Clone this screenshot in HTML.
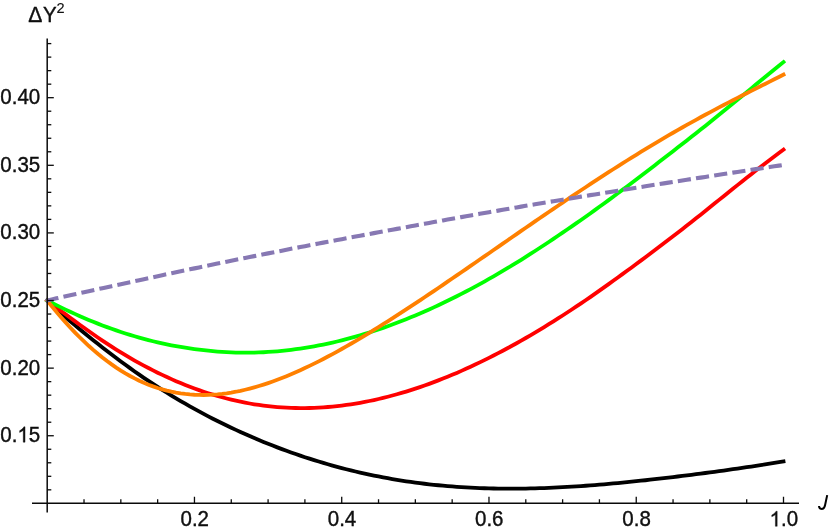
<!DOCTYPE html>
<html><head><meta charset="utf-8"><title>Plot</title>
<style>
html,body{margin:0;padding:0;background:#ffffff;}
body{width:830px;height:527px;overflow:hidden;font-family:"Liberation Sans",sans-serif;}
svg{display:block;will-change:transform;}
text{font-family:"Liberation Sans",sans-serif;font-size:20.5px;fill:#111111;}
</style></head>
<body>
<svg width="830" height="527" viewBox="0 0 830 527">
<rect x="0" y="0" width="830" height="527" fill="#ffffff"/>
<path d="M47.20 300.52 L51.80 304.66 L56.40 308.93 L61.01 313.12 L65.61 317.21 L70.21 321.22 L74.81 325.16 L79.41 329.02 L84.02 332.82 L88.62 336.55 L93.22 340.22 L97.82 343.85 L102.42 347.44 L107.02 350.99 L111.63 354.51 L116.23 357.98 L120.83 361.41 L125.43 364.80 L130.03 368.14 L134.64 371.43 L139.24 374.65 L143.84 377.81 L148.44 380.91 L153.04 383.95 L157.65 386.93 L162.25 389.85 L166.85 392.73 L171.45 395.55 L176.05 398.33 L180.65 401.06 L185.26 403.73 L189.86 406.35 L194.46 408.92 L199.06 411.44 L203.66 413.91 L208.27 416.34 L212.87 418.71 L217.47 421.03 L222.07 423.31 L226.67 425.55 L231.27 427.75 L235.88 429.90 L240.48 432.00 L245.08 434.07 L249.68 436.09 L254.28 438.08 L258.89 440.02 L263.49 441.92 L268.09 443.77 L272.69 445.59 L277.29 447.37 L281.90 449.10 L286.50 450.80 L291.10 452.45 L295.70 454.07 L300.30 455.64 L304.90 457.18 L309.51 458.67 L314.11 460.13 L318.71 461.55 L323.31 462.92 L327.91 464.26 L332.52 465.56 L337.12 466.82 L341.72 468.05 L346.32 469.23 L350.92 470.38 L355.53 471.49 L360.13 472.56 L364.73 473.59 L369.33 474.59 L373.93 475.55 L378.53 476.47 L383.14 477.36 L387.74 478.21 L392.34 479.02 L396.94 479.80 L401.54 480.55 L406.15 481.26 L410.75 481.93 L415.35 482.57 L419.95 483.17 L424.55 483.74 L429.16 484.28 L433.76 484.79 L438.36 485.26 L442.96 485.70 L447.56 486.10 L452.17 486.48 L456.77 486.82 L461.37 487.14 L465.97 487.42 L470.57 487.67 L475.17 487.90 L479.78 488.09 L484.38 488.26 L488.98 488.40 L493.58 488.51 L498.18 488.59 L502.79 488.65 L507.39 488.68 L511.99 488.69 L516.59 488.67 L521.19 488.62 L525.79 488.56 L530.40 488.47 L535.00 488.35 L539.60 488.22 L544.20 488.06 L548.80 487.88 L553.41 487.68 L558.01 487.46 L562.61 487.22 L567.21 486.97 L571.81 486.69 L576.42 486.40 L581.02 486.09 L585.62 485.76 L590.22 485.42 L594.82 485.06 L599.42 484.68 L604.03 484.30 L608.63 483.89 L613.23 483.48 L617.83 483.05 L622.43 482.61 L627.04 482.16 L631.64 481.69 L636.24 481.22 L640.84 480.73 L645.44 480.24 L650.05 479.73 L654.65 479.21 L659.25 478.69 L663.85 478.16 L668.45 477.61 L673.06 477.06 L677.66 476.51 L682.26 475.94 L686.86 475.37 L691.46 474.79 L696.06 474.20 L700.67 473.60 L705.27 473.00 L709.87 472.39 L714.47 471.77 L719.07 471.15 L723.68 470.51 L728.28 469.87 L732.88 469.23 L737.48 468.57 L742.08 467.91 L746.69 467.23 L751.29 466.55 L755.89 465.86 L760.49 465.15 L765.09 464.44 L769.69 463.71 L774.30 462.97 L778.90 462.22 L783.50 461.45" fill="none" stroke="#000000" stroke-width="3.8" stroke-linecap="square" stroke-linejoin="round"/>
<path d="M47.20 300.52 L51.80 303.95 L56.40 307.44 L61.01 310.90 L65.61 314.35 L70.21 317.76 L74.81 321.15 L79.41 324.49 L84.02 327.80 L88.62 331.06 L93.22 334.28 L97.82 337.45 L102.42 340.57 L107.02 343.63 L111.63 346.63 L116.23 349.55 L120.83 352.41 L125.43 355.20 L130.03 357.92 L134.64 360.56 L139.24 363.12 L143.84 365.61 L148.44 368.04 L153.04 370.40 L157.65 372.68 L162.25 374.90 L166.85 377.05 L171.45 379.13 L176.05 381.14 L180.65 383.08 L185.26 384.94 L189.86 386.73 L194.46 388.45 L199.06 390.10 L203.66 391.68 L208.27 393.19 L212.87 394.62 L217.47 395.99 L222.07 397.28 L226.67 398.50 L231.27 399.65 L235.88 400.72 L240.48 401.72 L245.08 402.65 L249.68 403.50 L254.28 404.28 L258.89 404.98 L263.49 405.61 L268.09 406.17 L272.69 406.65 L277.29 407.07 L281.90 407.41 L286.50 407.68 L291.10 407.88 L295.70 408.01 L300.30 408.07 L304.90 408.06 L309.51 407.98 L314.11 407.83 L318.71 407.62 L323.31 407.34 L327.91 406.99 L332.52 406.58 L337.12 406.10 L341.72 405.56 L346.32 404.96 L350.92 404.29 L355.53 403.56 L360.13 402.76 L364.73 401.91 L369.33 400.99 L373.93 400.02 L378.53 398.98 L383.14 397.89 L387.74 396.74 L392.34 395.53 L396.94 394.26 L401.54 392.94 L406.15 391.56 L410.75 390.13 L415.35 388.64 L419.95 387.10 L424.55 385.50 L429.16 383.85 L433.76 382.15 L438.36 380.40 L442.96 378.60 L447.56 376.74 L452.17 374.84 L456.77 372.89 L461.37 370.88 L465.97 368.83 L470.57 366.73 L475.17 364.59 L479.78 362.40 L484.38 360.16 L488.98 357.87 L493.58 355.54 L498.18 353.17 L502.79 350.75 L507.39 348.28 L511.99 345.78 L516.59 343.23 L521.19 340.63 L525.79 338.00 L530.40 335.33 L535.00 332.61 L539.60 329.86 L544.20 327.06 L548.80 324.23 L553.41 321.35 L558.01 318.44 L562.61 315.50 L567.21 312.51 L571.81 309.49 L576.42 306.43 L581.02 303.34 L585.62 300.22 L590.22 297.06 L594.82 293.87 L599.42 290.64 L604.03 287.39 L608.63 284.11 L613.23 280.82 L617.83 277.50 L622.43 274.16 L627.04 270.81 L631.64 267.44 L636.24 264.05 L640.84 260.64 L645.44 257.22 L650.05 253.78 L654.65 250.32 L659.25 246.84 L663.85 243.34 L668.45 239.82 L673.06 236.29 L677.66 232.75 L682.26 229.18 L686.86 225.58 L691.46 221.96 L696.06 218.32 L700.67 214.66 L705.27 210.99 L709.87 207.29 L714.47 203.59 L719.07 199.88 L723.68 196.17 L728.28 192.48 L732.88 188.79 L737.48 185.11 L742.08 181.45 L746.69 177.80 L751.29 174.17 L755.89 170.57 L760.49 166.99 L765.09 163.44 L769.69 159.93 L774.30 156.47 L778.90 153.06 L783.50 149.70" fill="none" stroke="#ff0000" stroke-width="3.8" stroke-linecap="square" stroke-linejoin="round"/>
<path d="M47.20 300.52 L51.80 302.78 L56.40 305.10 L61.01 307.38 L65.61 309.60 L70.21 311.77 L74.81 313.88 L79.41 315.94 L84.02 317.94 L88.62 319.89 L93.22 321.79 L97.82 323.62 L102.42 325.41 L107.02 327.13 L111.63 328.80 L116.23 330.41 L120.83 331.97 L125.43 333.47 L130.03 334.91 L134.64 336.29 L139.24 337.62 L143.84 338.88 L148.44 340.09 L153.04 341.25 L157.65 342.34 L162.25 343.38 L166.85 344.36 L171.45 345.28 L176.05 346.14 L180.65 346.95 L185.26 347.70 L189.86 348.41 L194.46 349.06 L199.06 349.66 L203.66 350.21 L208.27 350.71 L212.87 351.15 L217.47 351.54 L222.07 351.87 L226.67 352.15 L231.27 352.37 L235.88 352.53 L240.48 352.63 L245.08 352.67 L249.68 352.65 L254.28 352.57 L258.89 352.43 L263.49 352.23 L268.09 351.97 L272.69 351.65 L277.29 351.28 L281.90 350.85 L286.50 350.37 L291.10 349.83 L295.70 349.24 L300.30 348.60 L304.90 347.90 L309.51 347.15 L314.11 346.34 L318.71 345.48 L323.31 344.56 L327.91 343.59 L332.52 342.57 L337.12 341.49 L341.72 340.35 L346.32 339.17 L350.92 337.93 L355.53 336.63 L360.13 335.29 L364.73 333.90 L369.33 332.46 L373.93 330.97 L378.53 329.44 L383.14 327.85 L387.74 326.22 L392.34 324.54 L396.94 322.81 L401.54 321.04 L406.15 319.22 L410.75 317.36 L415.35 315.45 L419.95 313.49 L424.55 311.49 L429.16 309.45 L433.76 307.36 L438.36 305.22 L442.96 303.04 L447.56 300.82 L452.17 298.55 L456.77 296.25 L461.37 293.90 L465.97 291.50 L470.57 289.07 L475.17 286.60 L479.78 284.09 L484.38 281.54 L488.98 278.95 L493.58 276.33 L498.18 273.66 L502.79 270.96 L507.39 268.22 L511.99 265.44 L516.59 262.62 L521.19 259.77 L525.79 256.89 L530.40 253.96 L535.00 251.01 L539.60 248.02 L544.20 245.01 L548.80 241.96 L553.41 238.89 L558.01 235.79 L562.61 232.67 L567.21 229.52 L571.81 226.35 L576.42 223.16 L581.02 219.94 L585.62 216.70 L590.22 213.43 L594.82 210.14 L599.42 206.82 L604.03 203.48 L608.63 200.12 L613.23 196.73 L617.83 193.32 L622.43 189.89 L627.04 186.44 L631.64 182.97 L636.24 179.49 L640.84 175.99 L645.44 172.47 L650.05 168.95 L654.65 165.40 L659.25 161.85 L663.85 158.29 L668.45 154.73 L673.06 151.16 L677.66 147.58 L682.26 144.00 L686.86 140.41 L691.46 136.82 L696.06 133.22 L700.67 129.59 L705.27 125.93 L709.87 122.25 L714.47 118.56 L719.07 114.84 L723.68 111.10 L728.28 107.33 L732.88 103.55 L737.48 99.76 L742.08 95.97 L746.69 92.17 L751.29 88.38 L755.89 84.59 L760.49 80.80 L765.09 77.01 L769.69 73.24 L774.30 69.49 L778.90 65.76 L783.50 62.06" fill="none" stroke="#00ff00" stroke-width="3.8" stroke-linecap="square" stroke-linejoin="round"/>
<path d="M47.20 300.52 L51.80 306.27 L56.40 311.84 L61.01 317.23 L65.61 322.45 L70.21 327.48 L74.81 332.33 L79.41 337.00 L84.02 341.48 L88.62 345.77 L93.22 349.87 L97.82 353.79 L102.42 357.52 L107.02 361.06 L111.63 364.41 L116.23 367.58 L120.83 370.56 L125.43 373.36 L130.03 375.98 L134.64 378.41 L139.24 380.67 L143.84 382.75 L148.44 384.66 L153.04 386.39 L157.65 387.96 L162.25 389.36 L166.85 390.60 L171.45 391.67 L176.05 392.59 L180.65 393.36 L185.26 393.97 L189.86 394.44 L194.46 394.76 L199.06 394.95 L203.66 394.99 L208.27 394.90 L212.87 394.68 L217.47 394.33 L222.07 393.86 L226.67 393.27 L231.27 392.56 L235.88 391.74 L240.48 390.81 L245.08 389.77 L249.68 388.63 L254.28 387.39 L258.89 386.05 L263.49 384.62 L268.09 383.10 L272.69 381.49 L277.29 379.80 L281.90 378.03 L286.50 376.19 L291.10 374.26 L295.70 372.27 L300.30 370.21 L304.90 368.08 L309.51 365.89 L314.11 363.64 L318.71 361.33 L323.31 358.96 L327.91 356.54 L332.52 354.08 L337.12 351.56 L341.72 349.00 L346.32 346.39 L350.92 343.75 L355.53 341.06 L360.13 338.33 L364.73 335.58 L369.33 332.78 L373.93 329.96 L378.53 327.10 L383.14 324.22 L387.74 321.31 L392.34 318.38 L396.94 315.42 L401.54 312.44 L406.15 309.43 L410.75 306.41 L415.35 303.37 L419.95 300.32 L424.55 297.25 L429.16 294.16 L433.76 291.06 L438.36 287.95 L442.96 284.83 L447.56 281.69 L452.17 278.55 L456.77 275.40 L461.37 272.24 L465.97 269.08 L470.57 265.91 L475.17 262.74 L479.78 259.56 L484.38 256.38 L488.98 253.19 L493.58 250.01 L498.18 246.83 L502.79 243.64 L507.39 240.46 L511.99 237.28 L516.59 234.10 L521.19 230.92 L525.79 227.75 L530.40 224.59 L535.00 221.42 L539.60 218.27 L544.20 215.12 L548.80 211.98 L553.41 208.85 L558.01 205.73 L562.61 202.61 L567.21 199.51 L571.81 196.42 L576.42 193.34 L581.02 190.28 L585.62 187.23 L590.22 184.19 L594.82 181.17 L599.42 178.16 L604.03 175.17 L608.63 172.20 L613.23 169.25 L617.83 166.31 L622.43 163.40 L627.04 160.50 L631.64 157.62 L636.24 154.77 L640.84 151.94 L645.44 149.13 L650.05 146.34 L654.65 143.58 L659.25 140.84 L663.85 138.12 L668.45 135.43 L673.06 132.76 L677.66 130.12 L682.26 127.50 L686.86 124.90 L691.46 122.34 L696.06 119.79 L700.67 117.27 L705.27 114.77 L709.87 112.30 L714.47 109.84 L719.07 107.41 L723.68 105.00 L728.28 102.61 L732.88 100.23 L737.48 97.87 L742.08 95.53 L746.69 93.19 L751.29 90.87 L755.89 88.55 L760.49 86.24 L765.09 83.93 L769.69 81.62 L774.30 79.30 L778.90 76.97 L783.50 74.63" fill="none" stroke="#ff8000" stroke-width="3.8" stroke-linecap="square" stroke-linejoin="round"/>
<path d="M45.26 301.00 L47.20 300.52 L51.80 299.39 L56.40 298.34 L61.01 297.29 L65.61 296.26 L70.21 295.24 L74.81 294.22 L79.41 293.20 L84.02 292.18 L88.62 291.17 L93.22 290.16 L97.82 289.15 L102.42 288.15 L107.02 287.15 L111.63 286.15 L116.23 285.15 L120.83 284.16 L125.43 283.16 L130.03 282.17 L134.64 281.17 L139.24 280.18 L143.84 279.19 L148.44 278.19 L153.04 277.20 L157.65 276.21 L162.25 275.22 L166.85 274.23 L171.45 273.24 L176.05 272.26 L180.65 271.29 L185.26 270.32 L189.86 269.35 L194.46 268.38 L199.06 267.42 L203.66 266.46 L208.27 265.50 L212.87 264.55 L217.47 263.60 L222.07 262.65 L226.67 261.71 L231.27 260.77 L235.88 259.83 L240.48 258.90 L245.08 257.97 L249.68 257.05 L254.28 256.12 L258.89 255.20 L263.49 254.28 L268.09 253.37 L272.69 252.46 L277.29 251.55 L281.90 250.65 L286.50 249.74 L291.10 248.84 L295.70 247.95 L300.30 247.06 L304.90 246.17 L309.51 245.28 L314.11 244.39 L318.71 243.51 L323.31 242.63 L327.91 241.76 L332.52 240.89 L337.12 240.02 L341.72 239.15 L346.32 238.28 L350.92 237.42 L355.53 236.56 L360.13 235.71 L364.73 234.85 L369.33 233.99 L373.93 233.14 L378.53 232.28 L383.14 231.43 L387.74 230.57 L392.34 229.72 L396.94 228.86 L401.54 228.01 L406.15 227.16 L410.75 226.31 L415.35 225.46 L419.95 224.62 L424.55 223.78 L429.16 222.94 L433.76 222.10 L438.36 221.26 L442.96 220.43 L447.56 219.60 L452.17 218.77 L456.77 217.95 L461.37 217.12 L465.97 216.30 L470.57 215.48 L475.17 214.67 L479.78 213.85 L484.38 213.04 L488.98 212.23 L493.58 211.42 L498.18 210.61 L502.79 209.81 L507.39 209.01 L511.99 208.21 L516.59 207.41 L521.19 206.61 L525.79 205.83 L530.40 205.04 L535.00 204.26 L539.60 203.48 L544.20 202.71 L548.80 201.94 L553.41 201.18 L558.01 200.42 L562.61 199.66 L567.21 198.90 L571.81 198.15 L576.42 197.40 L581.02 196.64 L585.62 195.89 L590.22 195.14 L594.82 194.40 L599.42 193.65 L604.03 192.91 L608.63 192.17 L613.23 191.43 L617.83 190.69 L622.43 189.95 L627.04 189.21 L631.64 188.48 L636.24 187.74 L640.84 187.01 L645.44 186.28 L650.05 185.55 L654.65 184.83 L659.25 184.10 L663.85 183.37 L668.45 182.65 L673.06 181.93 L677.66 181.21 L682.26 180.49 L686.86 179.77 L691.46 179.05 L696.06 178.33 L700.67 177.62 L705.27 176.91 L709.87 176.19 L714.47 175.48 L719.07 174.77 L723.68 174.06 L728.28 173.35 L732.88 172.64 L737.48 171.94 L742.08 171.23 L746.69 170.53 L751.29 169.82 L755.89 169.12 L760.49 168.42 L765.09 167.72 L769.69 167.02 L774.30 166.32 L778.90 165.62 L783.50 164.92" fill="none" stroke="#8778b3" stroke-width="4.1" stroke-dasharray="13.2 5.19" stroke-dashoffset="-0.3" stroke-linecap="butt" stroke-linejoin="round"/>
<g stroke="#0a0a0a" stroke-width="1.5" fill="none">
<line x1="32" y1="503.35" x2="799" y2="503.35"/>
<line x1="47.2" y1="38.4" x2="47.2" y2="512.5"/>
</g>
<g stroke="#0a0a0a" stroke-width="1.3" fill="none">
<line x1="84.02" y1="503.35" x2="84.02" y2="499.25"/>
<line x1="120.83" y1="503.35" x2="120.83" y2="499.25"/>
<line x1="157.65" y1="503.35" x2="157.65" y2="499.25"/>
<line x1="194.46" y1="503.35" x2="194.46" y2="496.75"/>
<line x1="231.27" y1="503.35" x2="231.27" y2="499.25"/>
<line x1="268.09" y1="503.35" x2="268.09" y2="499.25"/>
<line x1="304.90" y1="503.35" x2="304.90" y2="499.25"/>
<line x1="341.72" y1="503.35" x2="341.72" y2="496.75"/>
<line x1="378.53" y1="503.35" x2="378.53" y2="499.25"/>
<line x1="415.35" y1="503.35" x2="415.35" y2="499.25"/>
<line x1="452.17" y1="503.35" x2="452.17" y2="499.25"/>
<line x1="488.98" y1="503.35" x2="488.98" y2="496.75"/>
<line x1="525.79" y1="503.35" x2="525.79" y2="499.25"/>
<line x1="562.61" y1="503.35" x2="562.61" y2="499.25"/>
<line x1="599.42" y1="503.35" x2="599.42" y2="499.25"/>
<line x1="636.24" y1="503.35" x2="636.24" y2="496.75"/>
<line x1="673.06" y1="503.35" x2="673.06" y2="499.25"/>
<line x1="709.87" y1="503.35" x2="709.87" y2="499.25"/>
<line x1="746.69" y1="503.35" x2="746.69" y2="499.25"/>
<line x1="783.50" y1="503.35" x2="783.50" y2="496.75"/>
<line x1="47.2" y1="489.83" x2="51.30" y2="489.83"/>
<line x1="47.2" y1="476.31" x2="51.30" y2="476.31"/>
<line x1="47.2" y1="462.78" x2="51.30" y2="462.78"/>
<line x1="47.2" y1="449.26" x2="51.30" y2="449.26"/>
<line x1="47.2" y1="435.74" x2="53.80" y2="435.74"/>
<line x1="47.2" y1="422.22" x2="51.30" y2="422.22"/>
<line x1="47.2" y1="408.70" x2="51.30" y2="408.70"/>
<line x1="47.2" y1="395.17" x2="51.30" y2="395.17"/>
<line x1="47.2" y1="381.65" x2="51.30" y2="381.65"/>
<line x1="47.2" y1="368.13" x2="53.80" y2="368.13"/>
<line x1="47.2" y1="354.61" x2="51.30" y2="354.61"/>
<line x1="47.2" y1="341.09" x2="51.30" y2="341.09"/>
<line x1="47.2" y1="327.56" x2="51.30" y2="327.56"/>
<line x1="47.2" y1="314.04" x2="51.30" y2="314.04"/>
<line x1="47.2" y1="300.52" x2="53.80" y2="300.52"/>
<line x1="47.2" y1="287.00" x2="51.30" y2="287.00"/>
<line x1="47.2" y1="273.48" x2="51.30" y2="273.48"/>
<line x1="47.2" y1="259.95" x2="51.30" y2="259.95"/>
<line x1="47.2" y1="246.43" x2="51.30" y2="246.43"/>
<line x1="47.2" y1="232.91" x2="53.80" y2="232.91"/>
<line x1="47.2" y1="219.39" x2="51.30" y2="219.39"/>
<line x1="47.2" y1="205.87" x2="51.30" y2="205.87"/>
<line x1="47.2" y1="192.34" x2="51.30" y2="192.34"/>
<line x1="47.2" y1="178.82" x2="51.30" y2="178.82"/>
<line x1="47.2" y1="165.30" x2="53.80" y2="165.30"/>
<line x1="47.2" y1="151.78" x2="51.30" y2="151.78"/>
<line x1="47.2" y1="138.26" x2="51.30" y2="138.26"/>
<line x1="47.2" y1="124.73" x2="51.30" y2="124.73"/>
<line x1="47.2" y1="111.21" x2="51.30" y2="111.21"/>
<line x1="47.2" y1="97.69" x2="53.80" y2="97.69"/>
<line x1="47.2" y1="84.17" x2="51.30" y2="84.17"/>
<line x1="47.2" y1="70.65" x2="51.30" y2="70.65"/>
<line x1="47.2" y1="57.12" x2="51.30" y2="57.12"/>
<line x1="47.2" y1="43.60" x2="51.30" y2="43.60"/>
</g>
<text transform="translate(194.76 526.30) scale(1.0 1.068)" style="font-size:20.5px" text-anchor="middle" stroke="#000" stroke-width="0.35" >0.2</text>
<text transform="translate(342.02 526.30) scale(1.0 1.068)" style="font-size:20.5px" text-anchor="middle" stroke="#000" stroke-width="0.35" >0.4</text>
<text transform="translate(489.28 526.30) scale(1.0 1.068)" style="font-size:20.5px" text-anchor="middle" stroke="#000" stroke-width="0.35" >0.6</text>
<text transform="translate(636.54 526.30) scale(1.0 1.068)" style="font-size:20.5px" text-anchor="middle" stroke="#000" stroke-width="0.35" >0.8</text>
<g transform="translate(769.55 526.30) scale(1.0 1.068)"><path transform="translate(0.00 0) scale(0.010010 -0.009581)" d="M763 0H583V1147Q518 1085 412.5 1023T223 930V1104Q374 1175 487 1276T647 1472H763Z" fill="#111111" stroke="#000" stroke-width="35.0"/><text x="11.40" y="0" style="font-size:20.5px" stroke="#000" stroke-width="0.35">.</text><text x="17.10" y="0" style="font-size:20.5px" stroke="#000" stroke-width="0.35">0</text></g>
<g transform="translate(0.30 442.19) scale(1.0 1.09)"><text x="0.00" y="0" style="font-size:20.5px" stroke="#000" stroke-width="0.35">0</text><text x="11.40" y="0" style="font-size:20.5px" stroke="#000" stroke-width="0.35">.</text><path transform="translate(17.10 0) scale(0.010010 -0.009581)" d="M763 0H583V1147Q518 1085 412.5 1023T223 930V1104Q374 1175 487 1276T647 1472H763Z" fill="#111111" stroke="#000" stroke-width="35.0"/><text x="28.50" y="0" style="font-size:20.5px" stroke="#000" stroke-width="0.35">5</text></g>
<text transform="translate(40.20 374.58) scale(1.0 1.09)" style="font-size:20.5px" text-anchor="end" stroke="#000" stroke-width="0.35" >0.20</text>
<text transform="translate(40.20 306.97) scale(1.0 1.09)" style="font-size:20.5px" text-anchor="end" stroke="#000" stroke-width="0.35" >0.25</text>
<text transform="translate(40.20 239.36) scale(1.0 1.09)" style="font-size:20.5px" text-anchor="end" stroke="#000" stroke-width="0.35" >0.30</text>
<text transform="translate(40.20 171.75) scale(1.0 1.09)" style="font-size:20.5px" text-anchor="end" stroke="#000" stroke-width="0.35" >0.35</text>
<text transform="translate(40.20 104.14) scale(1.0 1.09)" style="font-size:20.5px" text-anchor="end" stroke="#000" stroke-width="0.35" >0.40</text>
<text transform="translate(28.30 21.75) scale(1.03 1.085)" style="font-size:20.5px" text-anchor="start" stroke="#000" stroke-width="0.35" >Δ</text>
<text transform="translate(43.00 21.75) scale(1.0 1.085)" style="font-size:20.5px" text-anchor="start" stroke="#000" stroke-width="0.35" >Y</text>
<text transform="translate(56.50 12.80) scale(1.0 1.04)" style="font-size:14.6px" text-anchor="start" stroke="#000" stroke-width="0.12">2</text>
<path d="M827.2 495.1 L825.1 505.0 C824.6 507.6 823.6 509.0 821.9 509.0 C820.1 509.0 819.1 507.8 819.0 506.0" fill="none" stroke="#000" stroke-width="2.0" stroke-linecap="butt" stroke-linejoin="round"/>
</svg>
</body></html>
